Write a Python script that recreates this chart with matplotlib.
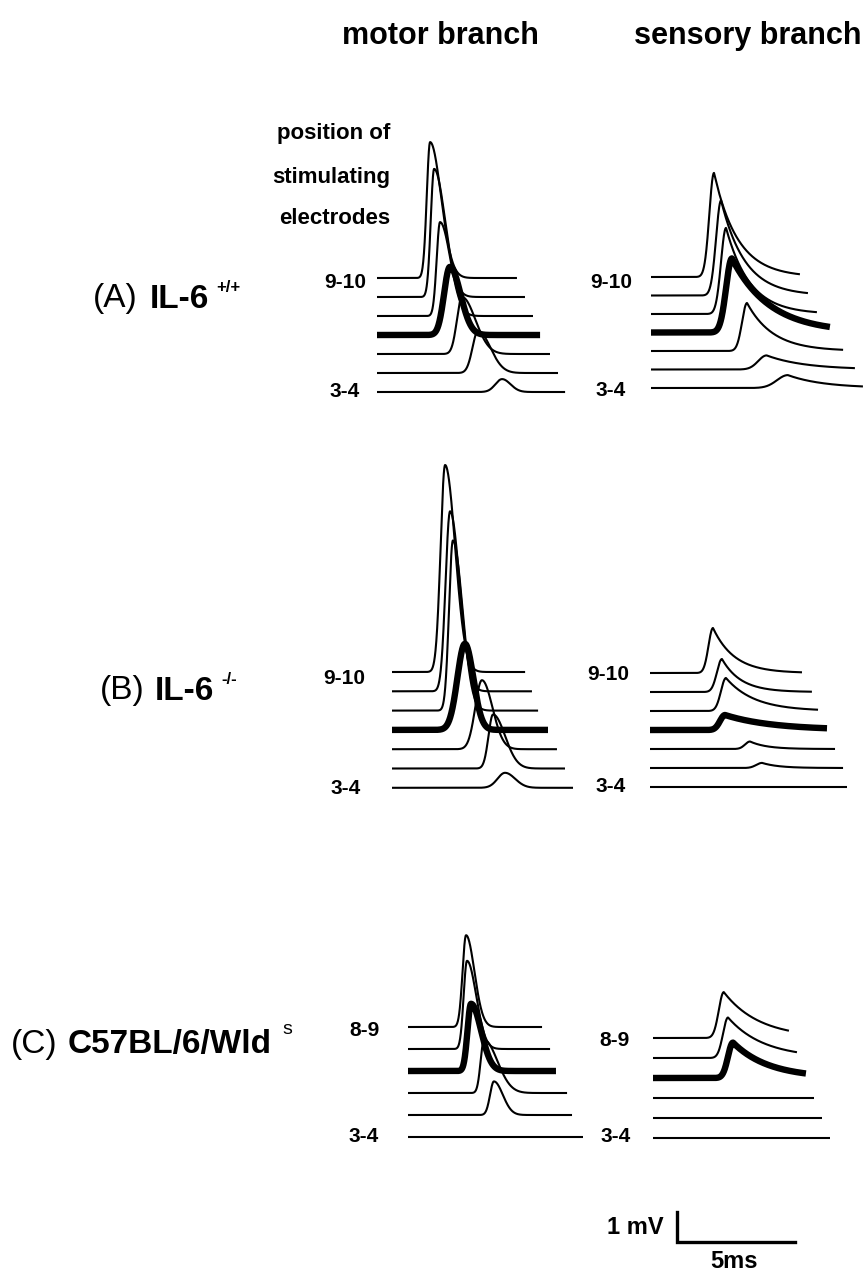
import matplotlib
matplotlib.use("Agg")
import matplotlib.pyplot as plt
import numpy as np

plt.rcParams['font.family'] = ['Liberation Sans', 'DejaVu Sans']

W, H = 865, 1275
PX_MS = 23.6   # pixels per ms (5 ms scale bar = 118 px)
PX_MV = 30.0   # pixels per mV

# ---- data ---------------------------------------------------------------
# per sweep: peak latency (ms from sweep start), amplitude (mV),
# rise / decay widths (ms), sweep length (ms); top sweep first
am_lat = [2.25, 2.42, 2.67, 3.09, 3.60, 4.28, 5.30]
am_amp = [4.53, 4.27, 3.13, 2.27, 1.90, 1.40, 0.43]
am_rise = [0.20, 0.20, 0.20, 0.35, 0.30, 0.33, 0.40]
am_decay = [0.65, 0.65, 0.62, 0.63, 0.80, 0.74, 0.50]
am_dur = [5.93, 6.27, 6.61, 6.91, 7.33, 7.67, 7.97]

as_lat = [2.67, 2.97, 3.18, 3.43, 4.07, 4.90, 5.80]
as_amp = [3.47, 3.17, 2.87, 2.47, 1.60, 0.47, 0.43]
as_rise = [0.28, 0.30, 0.30, 0.35, 0.30, 0.50, 0.65]
as_decay = [1.0, 1.0, 1.0, 1.6, 1.1, 1.6, 1.5]
as_dur = [6.31, 6.65, 7.03, 7.58, 8.14, 8.64, 8.98]

bm_lat = [2.25, 2.46, 2.58, 3.09, 3.81, 4.28, 4.79]
bm_amp = [6.90, 6.00, 5.67, 2.87, 2.30, 1.80, 0.50]
bm_rise = [0.27, 0.27, 0.23, 0.45, 0.40, 0.27, 0.45]
bm_decay = [0.60, 0.57, 0.57, 0.50, 0.63, 0.72, 0.60]
bm_dur = [5.64, 5.93, 6.19, 6.61, 6.99, 7.33, 7.67]

bs_lat = [2.67, 3.05, 3.22, 3.18, 4.24, 4.75, 5.00]
bs_amp = [1.50, 1.10, 1.10, 0.50, 0.25, 0.17, 0.00]
bs_rise = [0.27, 0.30, 0.30, 0.30, 0.30, 0.35, 0.30]
bs_decay = [0.9, 0.8, 1.2, 2.0, 0.7, 0.7, 0.7]
bs_dur = [6.44, 6.86, 7.12, 7.50, 7.84, 8.18, 8.35]

cm_lat = [2.46, 2.50, 2.67, 3.22, 3.64, 3.90]
cm_amp = [3.06, 2.94, 2.24, 1.77, 1.12, 0.00]
cm_rise = [0.21, 0.20, 0.21, 0.20, 0.23, 0.20]
cm_decay = [0.50, 0.55, 0.60, 0.80, 0.53, 0.50]
cm_dur = [5.68, 6.02, 6.27, 6.74, 6.95, 7.42]

cs_lat = [3.00, 3.18, 3.39, 3.50, 3.50, 3.50]
cs_amp = [1.53, 1.35, 1.18, 0.00, 0.00, 0.00]
cs_rise = [0.30, 0.30, 0.30, 0.30, 0.30, 0.30]
cs_decay = [1.5, 1.5, 1.5, 1.0, 1.0, 1.0]
cs_dur = [5.76, 6.10, 6.48, 6.82, 7.16, 7.50]

col_titles = ["motor branch", "sensory branch"]
top_labels = ["9-10", "9-10", "8-9"]
bottom_label = "3-4"


def sweep(t, lat, amp, rise, decay, power):
    dt = t - lat
    up = amp * np.exp(-(dt / rise) ** 2)
    down = amp * np.exp(-(np.abs(dt) / decay) ** power)
    return np.where(dt < 0, up, down)


fig = plt.figure(figsize=(W / 100, H / 100), dpi=100)
fig.patch.set_facecolor('white')


def px_text(x, y, s, **kw):
    return fig.text(x / W, 1 - y / H, s, **kw)


def panel(x0, y0, gap_px, lat, amp, rise, decay, dur, power, thick):
    gap = gap_px / PX_MV
    n = len(lat)
    top_mv = max(amp) + 0.6
    bot_mv = (n - 1) * gap + 0.6
    w_ms = max(dur) + 0.3
    top_px = y0 - top_mv * PX_MV
    bot_px = y0 + bot_mv * PX_MV
    ax = fig.add_axes([x0 / W, 1 - bot_px / H, w_ms * PX_MS / W, (bot_px - top_px) / H])
    ax.set_xlim(0, w_ms)
    ax.set_ylim(-bot_mv, top_mv)
    ax.axis('off')
    # lower sweeps first so upper ones sit on top
    for i in reversed(range(n)):
        t = np.linspace(0, dur[i], 800)
        y = sweep(t, lat[i], amp[i], rise[i], decay[i], power) - i * gap
        ax.plot(t, y, color='black', lw=4.6 if i == thick else 1.5,
                solid_capstyle='butt', solid_joinstyle='round', clip_on=False)
    return ax


panel(377, 278, 19.0, am_lat, am_amp, am_rise, am_decay, am_dur, 2, 3)
panel(651, 277, 18.5, as_lat, as_amp, as_rise, as_decay, as_dur, 1, 3)
panel(392, 672, 19.3, bm_lat, bm_amp, bm_rise, bm_decay, bm_dur, 2, 3)
panel(650, 673, 19.0, bs_lat, bs_amp, bs_rise, bs_decay, bs_dur, 1, 3)
panel(408, 1027, 22.0, cm_lat, cm_amp, cm_rise, cm_decay, cm_dur, 2, 2)
panel(653, 1038, 20.0, cs_lat, cs_amp, cs_rise, cs_decay, cs_dur, 1, 2)

# scale bar: 1 mV x 5 ms
sb = fig.add_axes([677 / W, 1 - 1242 / H, 5 * PX_MS / W, 1 * PX_MV / H])
sb.set_xlim(0, 5)
sb.set_ylim(0, 1)
sb.axis('off')
sb.plot([0, 0, 5], [1, 0, 0], color='black', lw=2.4, clip_on=False,
        solid_joinstyle='miter')
px_text(664, 1228, "1 mV", ha='right', va='center', fontsize=17, fontweight='bold')
px_text(734, 1262, "5ms", ha='center', va='center', fontsize=17, fontweight='bold')

# column titles
px_text(440, 36, col_titles[0], ha='center', va='center', fontsize=22, fontweight='bold')
px_text(748, 36, col_titles[1], ha='center', va='center', fontsize=22, fontweight='bold')

# electrode position note
for yy, s in zip([133, 177, 218], ["position of", "stimulating", "electrodes"]):
    px_text(390, yy, s, ha='right', va='center', fontsize=16, fontweight='bold')

# sweep labels
lab = dict(ha='center', va='center', fontsize=15, fontweight='bold')
px_text(345, 282, top_labels[0], **lab)
px_text(345, 392, bottom_label, **lab)
px_text(611, 283, top_labels[0], **lab)
px_text(611, 390, bottom_label, **lab)
px_text(344, 678, top_labels[1], **lab)
px_text(346, 788, bottom_label, **lab)
px_text(608, 675, top_labels[1], **lab)
px_text(611, 787, bottom_label, **lab)
px_text(364, 1030, top_labels[2], **lab)
px_text(364, 1137, bottom_label, **lab)
px_text(614, 1041, top_labels[2], **lab)
px_text(616, 1137, bottom_label, **lab)

# group labels
px_text(93, 299, "(A)", ha='left', va='center', fontsize=24)
px_text(150, 299, "IL-6", ha='left', va='center', fontsize=24, fontweight='bold')
px_text(216, 288, "+/+", ha='left', va='center', fontsize=12, fontweight='bold')

px_text(100, 691, "(B)", ha='left', va='center', fontsize=24)
px_text(155, 691, "IL-6", ha='left', va='center', fontsize=24, fontweight='bold')
px_text(221, 679, "-/-", ha='left', va='center', fontsize=12, fontweight='bold')

px_text(11, 1044, "(C)", ha='left', va='center', fontsize=24)
px_text(68, 1044, "C57BL/6/Wld", ha='left', va='center', fontsize=24, fontweight='bold')
px_text(282, 1030, "s", ha='left', va='center', fontsize=14)

fig.savefig("out.png", dpi=100, facecolor='white')
